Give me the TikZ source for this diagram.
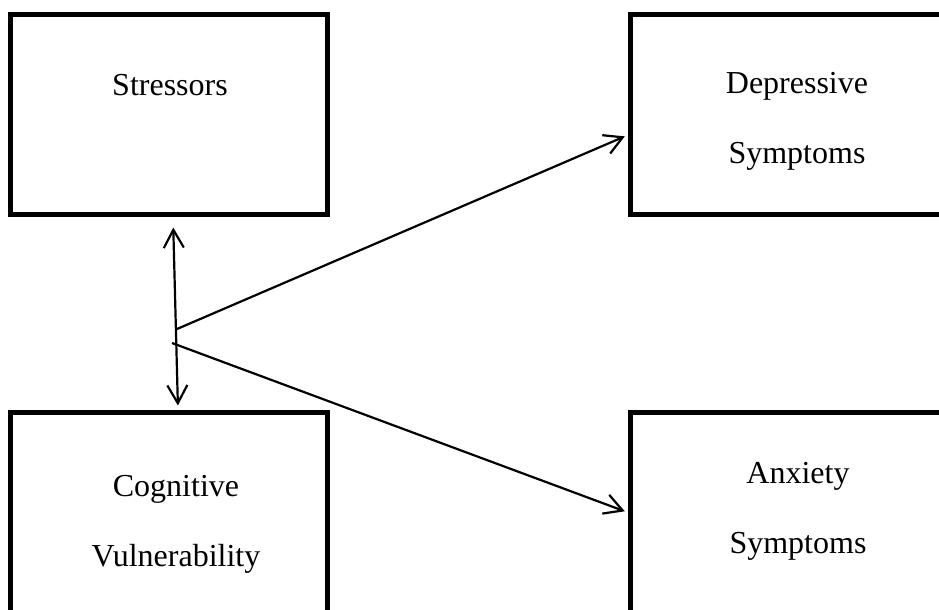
\documentclass[tikz,border=0pt]{standalone}
\usepackage{fontspec}
\setmainfont{Liberation Serif}
\usepackage{tikz}
\usetikzlibrary{positioning, calc, arrows.meta}

\begin{document}
\begin{tikzpicture}[x=0.75pt, y=-0.75pt,
    box/.style={draw, line width=3.75pt, minimum width=237.75pt, minimum height=150pt},
    txt/.style={font=\fontsize{24}{52}\selectfont, align=center, anchor=base, inner sep=0pt},
    link/.style={line width=1.65pt},
    >={Straight Barb[length=13.5pt, width=15pt]}]
      \clip (0,0) rectangle (939,610);

      \node[box] (Str) at (169,114.5) {};
      \node[box] (Dep) at (789,114.5) {};
      \node[box] (Cog) at (169,512.5) {};
      \node[box] (Anx) at (789,512.5) {};

      % base anchor sits on the last line
      \node[txt] (StrT) at (170,95) {Stressors};
      \node[txt] (DepT) at (797,163) {Depressive\\Symptoms};
      \node[txt] (CogT) at (176,566) {Cognitive\\Vulnerability};
      \node[txt] (AnxT) at (798,553) {Anxiety\\Symptoms};

      \coordinate (JoinA) at (177,329);
      \coordinate (JoinB) at (172,343);

      \draw[link, <->, shorten <=7.9pt, shorten >=3.4pt] ($(Str.south)+(4,0)$) -- ($(Cog.north)+(9,0)$);
      \draw[link, ->, shorten >=2.6pt] (JoinA) -- ($(Dep.north west)!0.6!(Dep.south west)$);
      \draw[link, ->, shorten >=2.6pt] (JoinB) -- (Anx.west);
    \end{tikzpicture}
\end{document}
